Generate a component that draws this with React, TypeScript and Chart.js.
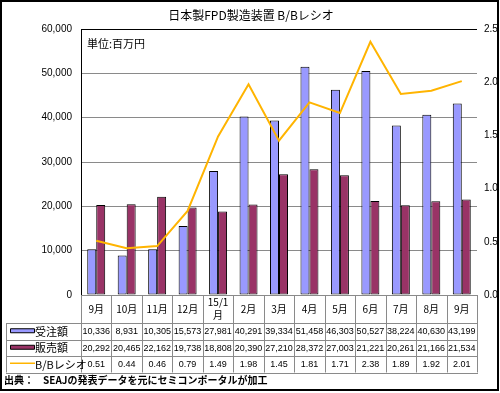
import React, { useEffect, useRef } from 'react';
import { Chart, registerables } from 'chart.js';

Chart.register(...registerables);

const categories: (string | string[])[] = ['9月', '10月', '11月', '12月', ['15/1', '月'], '2月', '3月', '4月', '5月', '6月', '7月', '8月', '9月'];
const orders = [10336, 8931, 10305, 15573, 27981, 40291, 39334, 51458, 46303, 50527, 38224, 40630, 43199];
const sales = [20292, 20465, 22162, 19738, 18808, 20390, 27210, 28372, 27003, 21221, 20261, 21166, 21534];
const bbRatio = [0.51, 0.44, 0.46, 0.79, 1.49, 1.98, 1.45, 1.81, 1.71, 2.38, 1.89, 1.92, 2.01];
const seriesNames = ['受注額', '販売額', 'B/Bレシオ'];
const titleText = '日本製FPD製造装置 B/Bレシオ';
const unitText = '単位:百万円';
const sourceLabel = '出典：';
const sourceText = 'SEAJの発表データを元にセミコンポータルが加工';

const FONT = '"Liberation Sans", "Noto Sans CJK JP", sans-serif';
const JFONT = '"Noto Sans CJK JP", "Liberation Sans", sans-serif';
const BLUE = '#9999FF';
const PURPLE = '#993366';
const ORANGE = '#FFB400';
const GRID = '#8a8a8a';

const fmt = (v: number) => v.toLocaleString('en-US');

const tablePlugin = {
  id: 'tablePlugin',
  afterDraw(chart: any) {
    const ctx = chart.ctx as CanvasRenderingContext2D;
    const area = chart.chartArea;
    const xs = chart.scales.x;
    const n = categories.length;
    const colW = (area.right - area.left) / n;
    const rowTops = [323, 339.5, 356, 372.5];
    const tableLeft = 6;
    ctx.save();

    // title
    ctx.fillStyle = '#000';
    ctx.font = `12px ${JFONT}`;
    ctx.textAlign = 'center';
    ctx.textBaseline = 'middle';
    ctx.fillText(titleText, 251, 15);

    // unit
    ctx.font = `11px ${JFONT}`;
    ctx.textAlign = 'left';
    ctx.fillText(unitText, 87, 44);

    // table lines
    ctx.strokeStyle = GRID;
    ctx.lineWidth = 1;
    ctx.beginPath();
    for (let i = 0; i <= n; i++) {
      const x = Math.round(area.left + i * colW) + 0.5;
      ctx.moveTo(x, area.bottom);
      ctx.lineTo(x, rowTops[3]);
    }
    ctx.moveTo(tableLeft + 0.5, rowTops[0]);
    ctx.lineTo(tableLeft + 0.5, rowTops[3]);
    for (const y of rowTops) {
      const yy = Math.round(y) + 0.5;
      ctx.moveTo(tableLeft, yy);
      ctx.lineTo(area.right + 1, yy);
    }
    ctx.stroke();

    // header labels
    ctx.fillStyle = '#000';
    ctx.textAlign = 'center';
    ctx.font = `10px ${JFONT}`;
    for (let i = 0; i < n; i++) {
      const cx = xs.getPixelForValue(i);
      const lab = categories[i];
      if (Array.isArray(lab)) {
        ctx.fillText(lab[0], cx, 302);
        ctx.fillText(lab[1], cx, 315);
      } else {
        ctx.fillText(lab, cx, 309);
      }
    }

    // values
    const rows = [orders.map(fmt), sales.map(fmt), bbRatio.map((v) => v.toFixed(2))];
    ctx.font = `9px ${FONT}`;
    rows.forEach((r, ri) => {
      const cy = (rowTops[ri] + rowTops[ri + 1]) / 2 + 0.5;
      r.forEach((t, i) => {
        ctx.fillText(t, xs.getPixelForValue(i), cy);
      });
    });

    // legend keys
    const keyColors = [BLUE, PURPLE];
    for (let ri = 0; ri < 3; ri++) {
      const cy = (rowTops[ri] + rowTops[ri + 1]) / 2;
      if (ri < 2) {
        ctx.fillStyle = keyColors[ri];
        ctx.strokeStyle = '#000';
        ctx.lineWidth = 1;
        ctx.beginPath();
        ctx.rect(10.5, cy - 2.5, 24, 4);
        ctx.fill();
        ctx.stroke();
      } else {
        ctx.strokeStyle = ORANGE;
        ctx.lineWidth = 1.5;
        ctx.beginPath();
        ctx.moveTo(10, cy - 1);
        ctx.lineTo(35, cy - 1);
        ctx.stroke();
      }
      ctx.fillStyle = '#000';
      ctx.textAlign = 'left';
      ctx.font = `11px ${JFONT}`;
      ctx.fillText(seriesNames[ri], 35, cy + 0.5);
    }

    // source
    ctx.font = `bold 10px ${JFONT}`;
    ctx.textAlign = 'left';
    ctx.fillText(sourceLabel, 4, 380);
    ctx.fillText(sourceText, 43, 380);

    // outer border
    ctx.strokeStyle = '#000';
    ctx.lineWidth = 2;
    ctx.strokeRect(1, 1, 497, 389);
    ctx.restore();
  },
};

export default function App() {
  const canvasRef = useRef<HTMLCanvasElement | null>(null);

  useEffect(() => {
    const canvas = canvasRef.current;
    if (!canvas) return;
    const chart = new Chart(canvas, {
      type: 'bar',
      data: {
        labels: categories as any,
        datasets: [
          {
            type: 'line',
            label: seriesNames[2],
            data: bbRatio,
            yAxisID: 'y1',
            borderColor: ORANGE,
            backgroundColor: ORANGE,
            borderWidth: 2,
            pointRadius: 0,
            tension: 0,
            order: 0,
          } as any,
          {
            type: 'bar',
            label: seriesNames[0],
            data: orders,
            yAxisID: 'y',
            backgroundColor: BLUE,
            borderColor: '#000',
            borderWidth: 1,
            borderSkipped: false,
            barPercentage: 1.0,
            categoryPercentage: 0.59,
            order: 1,
          },
          {
            type: 'bar',
            label: seriesNames[1],
            data: sales,
            yAxisID: 'y',
            backgroundColor: PURPLE,
            borderColor: '#000',
            borderWidth: 1,
            borderSkipped: false,
            barPercentage: 1.0,
            categoryPercentage: 0.59,
            order: 1,
          },
        ],
      },
      options: {
        responsive: false,
        animation: false,
        devicePixelRatio: 1,
        layout: { padding: { left: 0, right: 0, top: 29, bottom: 0 } },
        plugins: {
          legend: { display: false },
          tooltip: { enabled: false },
          title: { display: false },
        },
        scales: {
          x: {
            type: 'category',
            offset: true,
            grid: { display: false },
            border: { display: false },
            ticks: { display: false },
            afterFit: (s: any) => {
              s.height = 98;
            },
          },
          y: {
            position: 'left',
            min: 0,
            max: 60000,
            ticks: {
              stepSize: 10000,
              color: '#000',
              padding: 9,
              font: { family: FONT, size: 10 },
              callback: (v: any) => fmt(Number(v)),
            },
            grid: {
              drawTicks: false,
              color: (c: any) => (c.tick && c.tick.value === 60000 ? '#000' : GRID),
              lineWidth: 1,
            },
            border: { display: true, color: '#000', width: 1 },
            afterFit: (s: any) => {
              s.width = 81;
            },
          },
          y1: {
            position: 'right',
            min: 0,
            max: 2.5,
            ticks: {
              stepSize: 0.5,
              color: '#000',
              padding: 7,
              font: { family: FONT, size: 10 },
              callback: (v: any) => Number(v).toFixed(1),
            },
            grid: { display: false, drawTicks: false },
            border: { display: false },
            afterFit: (s: any) => {
              s.width = 23;
            },
          },
        },
      },
      plugins: [tablePlugin],
    });
    return () => chart.destroy();
  }, []);

  return (
    <div style={{ position: 'fixed', left: 0, top: 0, width: 500, height: 393, background: '#fff' }}>
      <canvas ref={canvasRef} width={500} height={393} />
    </div>
  );
}
